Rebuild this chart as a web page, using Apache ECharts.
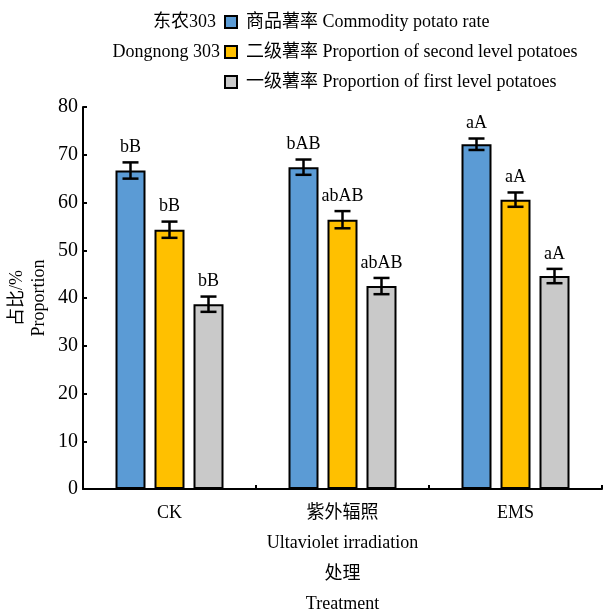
<!DOCTYPE html>
<html>
<head>
<meta charset="utf-8">
<script src="https://cdn.jsdelivr.net/npm/echarts@6/dist/echarts.min.js"></script>
<style>html,body{margin:0;padding:0;background:#fff}#c{width:606px;height:613px}</style>
</head>
<body>
<div id="c"></div>
<script>
const categories = ['CK', '紫外辐照\nUltaviolet irradiation', 'EMS'];
const seriesNames = ['商品薯率 Commodity potato rate', '二级薯率 Proportion of second level potatoes', '一级薯率 Proportion of first level potatoes'];
const commodity = [66.7, 67.4, 72.2];
const commodityErr = [1.7, 1.6, 1.2];
const secondLevel = [54.3, 56.4, 60.6];
const secondErr = [1.7, 1.8, 1.5];
const firstLevel = [38.7, 42.5, 44.6];
const firstErr = [1.6, 1.7, 1.5];
const commodityLabels = ['bB', 'bAB', 'aA'];
const secondLabels = ['bB', 'abAB', 'aA'];
const firstLabels = ['bB', 'abAB', 'aA'];
const yTicks = [0, 10, 20, 30, 40, 50, 60, 70, 80];

const FONT = '"Liberation Serif", "Noto Sans CJK SC", serif';
const colors = ['#5B9BD5', '#FFC000', '#C9C9C9'];
const BAR_W = 30, BAR_GAP = 9;

const values = [commodity, secondLevel, firstLevel];
const errs = [commodityErr, secondErr, firstErr];
const labs = [commodityLabels, secondLabels, firstLabels];

const barSeries = values.map((vals, i) => ({
  name: seriesNames[i],
  type: 'bar',
  data: vals,
  barWidth: BAR_W,
  barGap: (BAR_GAP / BAR_W * 100) + '%',
  itemStyle: { color: colors[i], borderColor: '#000', borderWidth: 2 },
  z: 2
}));

const errSeries = values.map((vals, i) => ({
  name: 'err' + i,
  type: 'custom',
  z: 5,
  data: vals.map((v, j) => [j, v, errs[i][j]]),
  renderItem: function (params, api) {
    const x = api.value(0), v = api.value(1), e = api.value(2);
    const off = (i - 1) * (BAR_W + BAR_GAP);
    const top = api.coord([x, v + e]);
    const bot = api.coord([x, v - e]);
    const cx = top[0] + off;
    const hw = 8;
    const st = { stroke: '#000', lineWidth: 2.5 };
    return {
      type: 'group',
      children: [
        { type: 'line', shape: { x1: cx, y1: top[1], x2: cx, y2: bot[1] }, style: st },
        { type: 'line', shape: { x1: cx - hw, y1: top[1], x2: cx + hw, y2: top[1] }, style: st },
        { type: 'line', shape: { x1: cx - hw, y1: bot[1], x2: cx + hw, y2: bot[1] }, style: st },
        { type: 'text', style: { text: labs[i][params.dataIndex], x: cx, y: top[1] - 6, align: 'center', verticalAlign: 'bottom', font: '18px ' + FONT, fill: '#000' } }
      ]
    };
  }
}));

const chart = echarts.init(document.getElementById('c'));
chart.setOption({
  animation: false,
  backgroundColor: '#fff',
  textStyle: { fontFamily: FONT, color: '#000' },
  grid: { left: 83, right: 4, top: 107, bottom: 124, outerBoundsMode: 'none', containLabel: false },
  legend: {
    orient: 'vertical',
    left: 224,
    top: 13,
    padding: 0,
    data: seriesNames,
    itemWidth: 12,
    itemHeight: 12,
    itemGap: 12,
    icon: 'rect',
    itemStyle: { borderColor: '#000', borderWidth: 2 },
    textStyle: { fontSize: 18, fontFamily: FONT, color: '#000', padding: [0, 0, 0, 4] }
  },
  graphic: [
    { type: 'text', right: 606 - 216, top: 13, style: { text: '东农303', font: '18px ' + FONT, fill: '#000', align: 'right' } },
    { type: 'text', right: 606 - 220, top: 43, style: { text: 'Dongnong 303', font: '18px ' + FONT, fill: '#000', align: 'right' } }
  ],
  xAxis: {
    type: 'category',
    data: categories,
    name: '处理\nTreatment',
    nameLocation: 'middle',
    nameMoveOverlap: false,
    nameGap: 70,
    nameTextStyle: { fontSize: 18, lineHeight: 30, fontFamily: FONT, color: '#000' },
    axisLine: { lineStyle: { color: '#000', width: 2 } },
    axisTick: { show: true, inside: true, length: 4, lineStyle: { color: '#000', width: 2 } },
    axisLabel: { interval: 0, fontSize: 18, lineHeight: 30, margin: 9, color: '#000', fontFamily: FONT, hideOverlap: false }
  },
  yAxis: {
    type: 'value',
    min: 0,
    max: 80,
    interval: 10,
    name: '占比/%\nProportion',
    nameLocation: 'middle',
    nameMoveOverlap: false,
    nameRotate: 90,
    nameGap: 33,
    nameTextStyle: { fontSize: 18, lineHeight: 22, fontFamily: FONT, color: '#000' },
    axisLine: { show: true, lineStyle: { color: '#000', width: 2 } },
    axisTick: { show: true, inside: true, length: 4, lineStyle: { color: '#000', width: 2 } },
    splitLine: { show: false },
    axisLabel: { fontSize: 20, margin: 5, color: '#000', fontFamily: FONT,
      formatter: v => (yTicks.indexOf(v) >= 0 ? String(v) : '') }
  },
  series: barSeries.concat(errSeries)
});
</script>
</body>
</html>
